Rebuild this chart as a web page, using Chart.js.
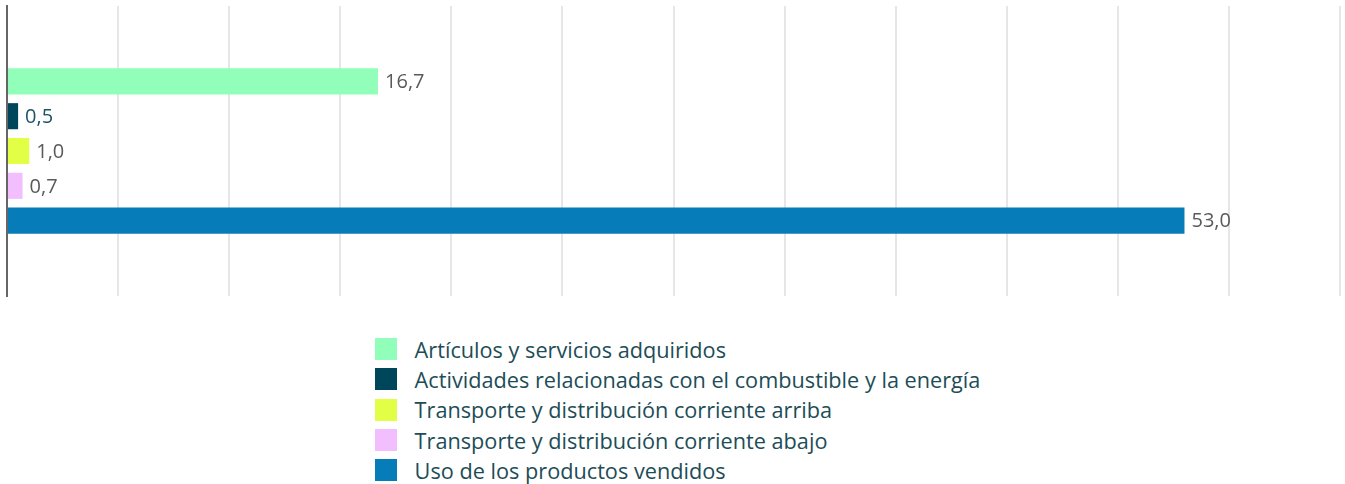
<!DOCTYPE html>
<html>
<head>
<meta charset="utf-8">
<script src="https://cdn.jsdelivr.net/npm/chart.js@4/dist/chart.umd.min.js"></script>
<style>
  body { margin: 0; background: #fff; font-family: "Open Sans", sans-serif; }
  #wrap { position: relative; width: 1345px; height: 302px; }
  #legend { display: flex; justify-content: center; margin-top: 32px; }
  #legend ul { list-style: none; margin: 0; padding: 0 0 0 10px; }
  #legend li { display: flex; align-items: center; height: 30.3px; font-size: 21.7px; color: #1d4d57; white-space: nowrap; }
  #legend span.box { width: 22px; height: 22px; margin-right: 18px; display: inline-block; flex: none; }
</style>
</head>
<body>
<div id="wrap"><canvas id="bars"></canvas></div>
<div id="legend"><ul></ul></div>
<script>
const seriesNames = [
  'Artículos y servicios adquiridos',
  'Actividades relacionadas con el combustible y la energía',
  'Transporte y distribución corriente arriba',
  'Transporte y distribución corriente abajo',
  'Uso de los productos vendidos'
];
const seriesValues = [16.7, 0.5, 1.0, 0.7, 53.0];
const colors = ['#91FFB9', '#00465A', '#E2FF45', '#F3BEFD', '#067DB9'];
const labelColors = ['#5a5a5a', '#1d5564', '#5a5a5a', '#5a5a5a', '#5a5a5a'];

const valueLabels = {
  id: 'valueLabels',
  afterDatasetsDraw(chart) {
    const ctx = chart.ctx;
    chart.data.datasets.forEach((ds, i) => {
      const meta = chart.getDatasetMeta(i);
      meta.data.forEach((bar, j) => {
        ctx.save();
        ctx.font = '20px "Open Sans", sans-serif';
        ctx.fillStyle = labelColors[i];
        ctx.textBaseline = 'middle';
        ctx.fillText(ds.data[j].toFixed(1).replace('.', ','), bar.x + 7, bar.y + 1);
        ctx.restore();
      });
    });
  }
};

const chart = new Chart(document.getElementById('bars'), {
  type: 'bar',
  plugins: [valueLabels],
  data: {
    labels: [''],
    datasets: seriesNames.map((name, i) => ({
      label: name,
      data: [seriesValues[i]],
      backgroundColor: colors[i],
      categoryPercentage: 0.6,
      barPercentage: 0.75
    }))
  },
  options: {
    indexAxis: 'y',
    animation: false,
    responsive: true,
    maintainAspectRatio: false,
    layout: { padding: { top: 6, right: 5, left: 7, bottom: 6 } },
    plugins: {
      legend: { display: false },
      tooltip: { enabled: false }
    },
    scales: {
      x: {
        min: 0,
        max: 60,
        ticks: { display: false, stepSize: 5 },
        grid: { color: '#e6e6e6', lineWidth: 2, drawTicks: false },
        border: { display: false }
      },
      y: {
        ticks: { display: false },
        grid: { display: false, drawTicks: false },
        border: { color: '#666', width: 2 }
      }
    }
  }
});

// legend below the chart, one item per row
const ul = document.querySelector('#legend ul');
seriesNames.forEach((name, i) => {
  const li = document.createElement('li');
  li.innerHTML = '<span class="box" style="background:' + colors[i] + '"></span>' + name;
  ul.appendChild(li);
});
</script>
</body>
</html>
